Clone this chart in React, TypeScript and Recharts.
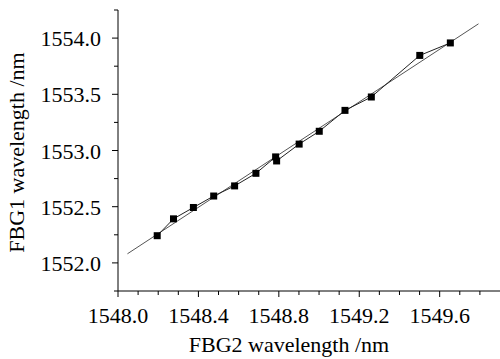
import React from 'react';
import { ScatterChart, Scatter, XAxis, YAxis, Label } from 'recharts';

// FBG2 vs FBG1 wavelength, measured points (nm)
const fbg2 = [1548.195, 1548.276, 1548.375, 1548.476, 1548.58, 1548.686, 1548.784, 1548.789, 1548.901, 1549.001, 1549.129, 1549.26, 1549.501, 1549.653];
const fbg1 = [1552.242, 1552.392, 1552.493, 1552.595, 1552.685, 1552.797, 1552.943, 1552.907, 1553.057, 1553.171, 1553.357, 1553.476, 1553.846, 1553.957];

// linear fit endpoints
const fitX = [1548.047, 1549.793];
const fitY = [1552.081, 1554.127];

const xTicks = [1548.0, 1548.1, 1548.2, 1548.3, 1548.4, 1548.5, 1548.6, 1548.7, 1548.8, 1548.9, 1549.0, 1549.1, 1549.2, 1549.3, 1549.4, 1549.5, 1549.6, 1549.7, 1549.8];
const yTicks = [1551.75, 1552.0, 1552.25, 1552.5, 1552.75, 1553.0, 1553.25, 1553.5, 1553.75, 1554.0, 1554.25];

const font = '"Liberation Serif", "Times New Roman", serif';
const textStyle = { fontFamily: font, fontSize: 22 };

const points = fbg2.map((x, i) => ({ x, y: fbg1[i] }));
const fit = fitX.map((x, i) => ({ x, y: fitY[i] }));

const XTick = ({ x, y, payload }: any) => {
  const major = Math.round(payload.value * 10) % 4 === 0;
  return (
    <g>
      <line x1={x} x2={x} y1={y} y2={y + (major ? 6 : 4)} stroke="#000" />
      {major && (
        <text x={x} y={y + 32} textAnchor="middle" style={textStyle} fill="#000">
          {payload.value.toFixed(1)}
        </text>
      )}
    </g>
  );
};

const YTick = ({ x, y, payload }: any) => {
  const major = Math.round(payload.value * 4) % 2 === 0;
  return (
    <g>
      <line x1={x - (major ? 6 : 4)} x2={x} y1={y} y2={y} stroke="#000" />
      {major && (
        <text x={x - 17} y={y + 8} textAnchor="end" style={textStyle} fill="#000">
          {payload.value.toFixed(1)}
        </text>
      )}
    </g>
  );
};

const Square = (p: any) => <rect x={p.cx - 3.5} y={p.cy - 3.5} width={7} height={7} fill="#000" />;

export default function App() {
  return (
    <div style={{ position: 'absolute', left: 0, top: 0, background: '#fff' }}>
      <ScatterChart width={500} height={359} margin={{ top: 10, right: 0, bottom: 0, left: 0 }}>
        <XAxis
          type="number"
          dataKey="x"
          domain={[1548.0, 1549.9]}
          ticks={xTicks}
          interval={0}
          height={68}
          tickSize={0}
          tickMargin={0}
          tickLine={false}
          axisLine={{ stroke: '#000' }}
          tick={<XTick />}
        >
          <Label
            content={({ viewBox }: any) => (
              <text x={viewBox.x + viewBox.width / 2 - 20} y={viewBox.y + 61} textAnchor="middle" style={textStyle} fill="#000">
                FBG2 wavelength /nm
              </text>
            )}
          />
        </XAxis>
        <YAxis
          type="number"
          dataKey="y"
          domain={[1551.75, 1554.25]}
          ticks={yTicks}
          interval={0}
          width={118}
          tickSize={0}
          tickMargin={0}
          tickLine={false}
          axisLine={{ stroke: '#000' }}
          tick={<YTick />}
        >
          <Label
            content={({ viewBox }: any) => (
              <text
                transform={`translate(24, ${viewBox.y + viewBox.height / 2 + 2}) rotate(-90)`}
                textAnchor="middle"
                style={textStyle}
                fill="#000"
              >
                FBG1 wavelength /nm
              </text>
            )}
          />
        </YAxis>
        <Scatter data={fit} line={{ stroke: '#555', strokeWidth: 1 }} shape={() => <g />} isAnimationActive={false} />
        <Scatter data={points} line={{ stroke: '#222', strokeWidth: 1 }} shape={<Square />} isAnimationActive={false} />
      </ScatterChart>
    </div>
  );
}
